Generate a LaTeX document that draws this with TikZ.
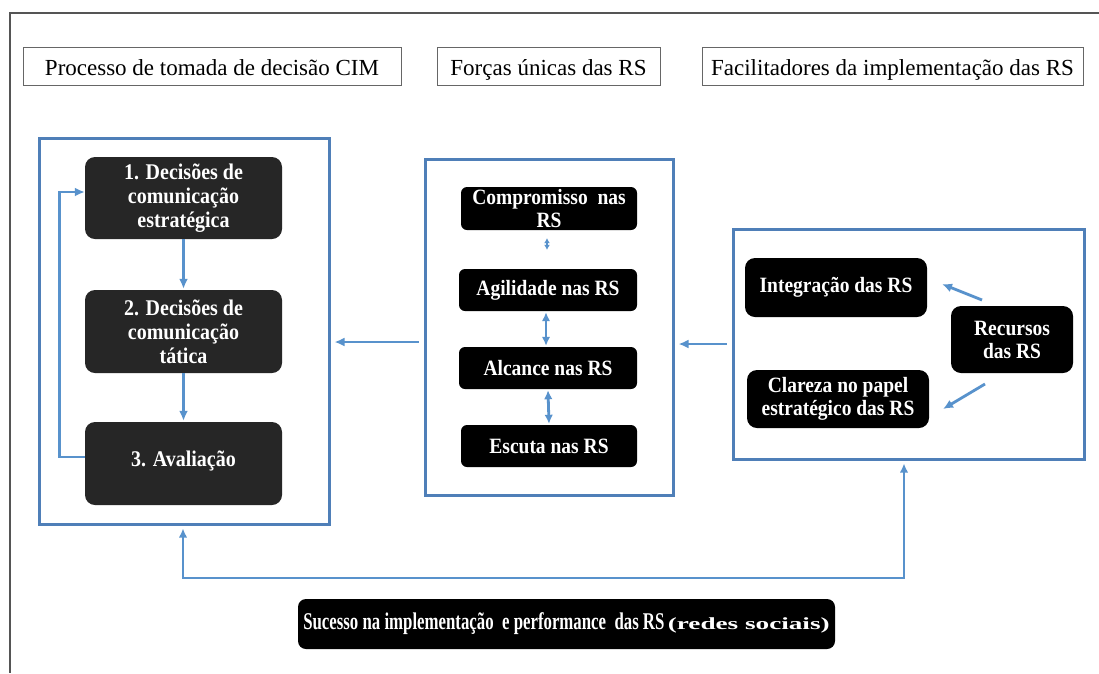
\documentclass[tikz,border=0pt]{standalone}
\usepackage{fontspec}
\usepackage{graphicx}
\setmainfont{Liberation Serif}
\usetikzlibrary{arrows.meta}
\definecolor{frameblue}{RGB}{79,127,184}
\definecolor{arrowblue}{RGB}{88,146,204}
\definecolor{darkbox}{RGB}{38,38,38}
\definecolor{outerline}{RGB}{85,85,85}
\newcommand{\tallln}[1]{\scalebox{1}[1.12]{#1}}
\begin{document}
\begin{tikzpicture}[x=1pt,y=-1pt,
  hdr/.style={draw=gray!80!black, line width=0.8pt, fill=white, inner sep=0pt, text height=20pt, text depth=2pt, font=\fontsize{23}{27}\selectfont},
  bluebox/.style={draw=frameblue, line width=3pt, inner sep=0pt},
  dbox/.style={fill=darkbox, rounded corners=10pt, text=white, align=center, inner sep=0pt, font=\bfseries\fontsize{20}{24}\selectfont},
  bbox/.style={dbox, fill=black, rounded corners=6pt, font=\bfseries\fontsize{19.5}{23}\selectfont},
  arr/.style={draw=arrowblue, line width=2.8pt, -{Latex[length=10pt,width=9pt]}},
  darr/.style={draw=arrowblue, line width=2.8pt, {Latex[length=9pt,width=8.5pt]}-{Latex[length=9pt,width=8.5pt]}}
]
\useasboundingbox (0,0) rectangle (1099,673);
\fill[white] (0,0) rectangle (1099,673);
% outer frame (top and left edges)
\coordinate (oTR) at (1099,13);
\coordinate (oTL) at (10,13);
\coordinate (oBL) at (10,673);
\draw[outerline, line width=1.2pt] (oTR) -- (oTL) -- (oBL);

% headers
\node[hdr, minimum width=378pt, minimum height=38pt] (h1) at (212,66) {Processo de tomada de decisão CIM};
\node[hdr, minimum width=223pt, minimum height=38pt] (h2) at (548.5,66) {Forças únicas das RS};
\node[hdr, minimum width=381pt, minimum height=38pt] (h3) at (892.5,66) {Facilitadores da implementação das RS};

% big blue frames
\node[bluebox, minimum width=290pt, minimum height=386pt] (left) at (184,331) {};
\node[bluebox, minimum width=248pt, minimum height=336pt] (mid) at (549,327) {};
\node[bluebox, minimum width=351pt, minimum height=230pt] (right) at (908.5,344) {};

% left column
\node[dbox, minimum width=197pt, minimum height=82pt] (b1) at (183.5,198) {\tallln{1. Decisões de}\\\tallln{comunicação}\\\tallln{estratégica}};
\node[dbox, minimum width=197pt, minimum height=83pt] (b2) at (183.5,331.5) {\tallln{2. Decisões de}\\\tallln{comunicação}\\\tallln{tática}};
\node[dbox, minimum width=197pt, minimum height=83pt] (b3) at (183.5,463.5) {\raisebox{10pt}{\tallln{3. Avaliação}}};

\draw[arr] (b1.south) -- ([yshift=1]b2.north);
\draw[arr] (b2.south) -- ([yshift=1]b3.north);
\draw[arr] ([yshift=6.5]b3.west) -- ++(-25,0) |- ([yshift=6]b1.west);

% middle column
\node[bbox, minimum width=176pt, minimum height=43pt] (comp) at (549,208.5) {\tallln{Compromisso\ \ nas}\\\tallln{RS}};
\node[bbox, minimum width=178pt, minimum height=42pt] (agil) at (548,290) {\tallln{Agilidade\ nas RS}};
\node[bbox, minimum width=178pt, minimum height=42pt] (alc) at (548,368) {\tallln{Alcance nas RS}};
\node[bbox, minimum width=176pt, minimum height=42pt] (esc) at (549,446) {\tallln{Escuta nas RS}};

\coordinate (d1) at ([xshift=-2,yshift=-8]comp.south);
\coordinate (d2) at ([xshift=-1,yshift=19]agil.north);
\draw[draw=arrowblue, line width=1.5pt, {Latex[length=5pt,width=6pt]}-{Latex[length=5pt,width=6pt]}] (d1) -- (d2);
\draw[darr] ([xshift=-2,yshift=-1]agil.south) -- ([xshift=-2,yshift=1]alc.north);
\draw[darr] ([yshift=-1]alc.south) -- ([yshift=1]esc.north);

% right column
\node[bbox, rounded corners=10pt, minimum width=182pt, minimum height=59pt] (integ) at (836,287.5) {\tallln{Integração das RS}};
\node[bbox, rounded corners=10pt, minimum width=182pt, minimum height=58pt] (clar) at (838,399) {\tallln{Clareza no papel}\\\tallln{estratégico das RS}};
\node[bbox, rounded corners=10pt, minimum width=122pt, minimum height=67pt] (recu) at (1012,339.5) {\tallln{Recursos}\\\tallln{das RS}};

\coordinate (r1s) at (982,300);
\coordinate (r1e) at (942,284);
\coordinate (r2s) at (985,384);
\coordinate (r2e) at (943,409);
\draw[arr] (r1s) -- (r1e);
\draw[arr] (r2s) -- (r2e);

% arrows between frames
\coordinate (m1) at ([xshift=-5,yshift=-15]mid.west);
\coordinate (l1) at ([xshift=4]left.east);
\draw[arr] (m1) -- (m1 -| l1);
\coordinate (rr1) at ([xshift=-5]right.west);
\coordinate (mm1) at ([xshift=4]mid.east);
\draw[arr] (rr1) -- (rr1 -| mm1);

% bottom loop
\coordinate (pL) at ([xshift=-1,yshift=-3]left.south);
\coordinate (pR) at ([xshift=-4.5,yshift=-3]right.south);
\coordinate (bot) at (0,578);
\draw[darr] (pL) |- (bot -| pR) -- (pR);

% bottom box
\node[bbox, fill=black, rounded corners=8pt, minimum width=537pt, minimum height=50pt, font=\bfseries\fontsize{20}{24}\selectfont] (succ) at (566.5,624)
  {\scalebox{0.84}[1.2]{Sucesso na implementação\ \ e performance\ \ das RS}\,\scalebox{1.6}[1]{\fontsize{17}{19}\selectfont (redes sociais)}};
\end{tikzpicture}
\end{document}
